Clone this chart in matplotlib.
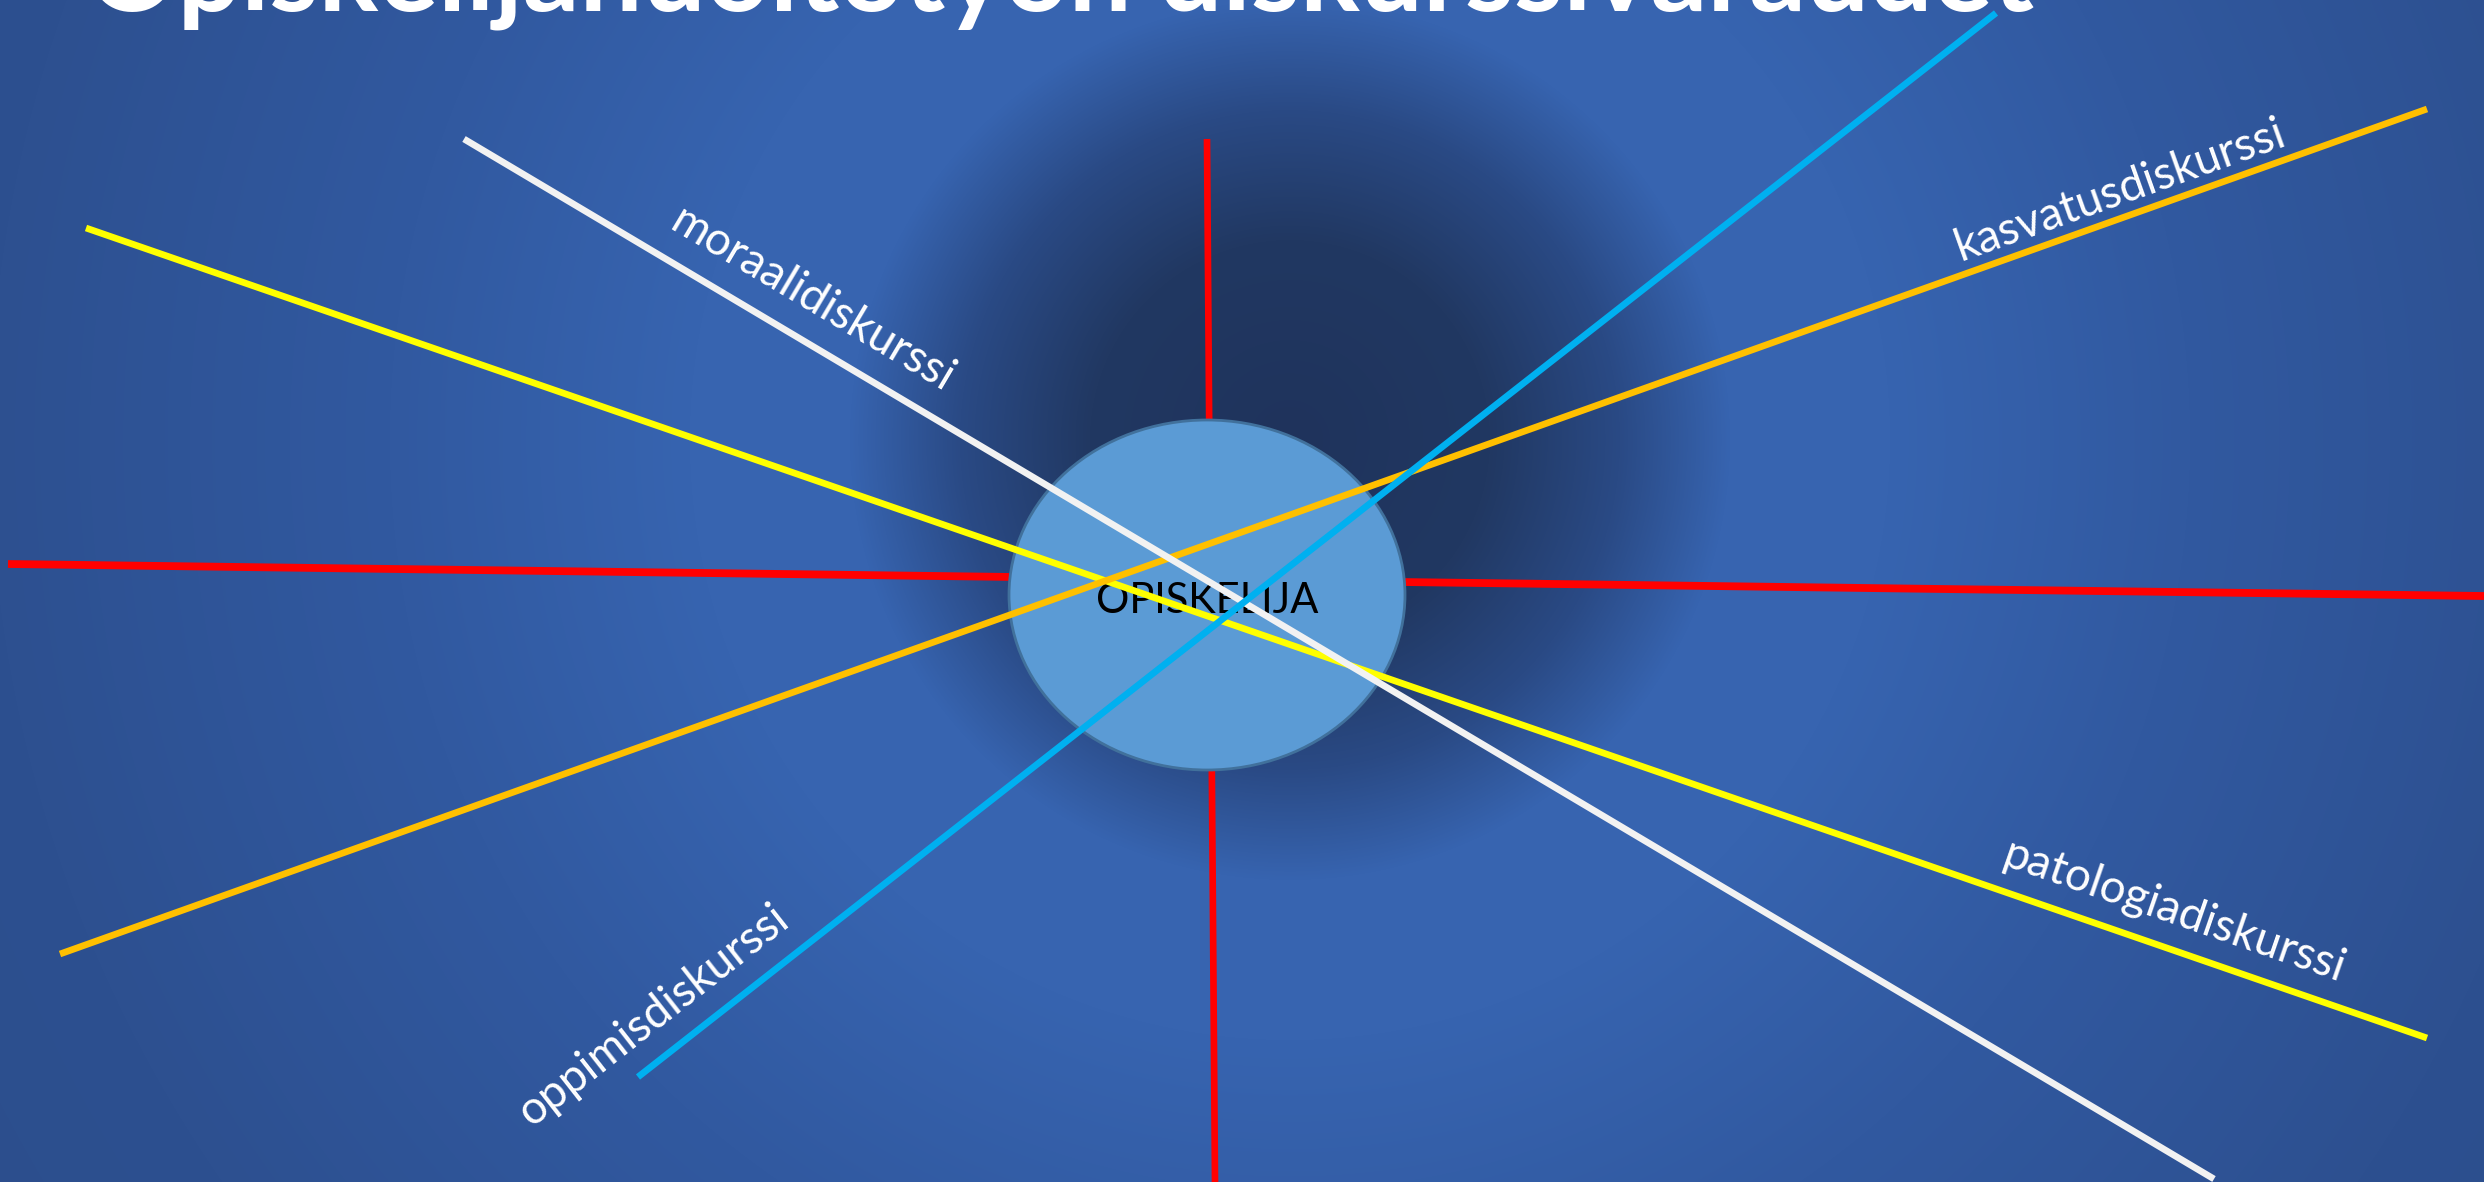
import numpy as np
import matplotlib
matplotlib.use("Agg")
import matplotlib.pyplot as plt
from matplotlib.patches import Ellipse
from matplotlib.colors import to_rgb

W, H = 2484, 1182

# ---------------- data ----------------
title = "Opiskelijahuoltotyön diskurssivaraudet"
center_label = "OPISKELIJA"

red_v_x = [1207, 1215]
red_v_y = [139, 1182]
red_h_x = [8, 2484]
red_h_y = [564, 596]
yellow_x = [86, 2427]
yellow_y = [228, 1038]
orange_x = [60, 2427]
orange_y = [954, 109]
white_x = [464, 2214]
white_y = [139, 1179]
cyan_x = [638, 1996]
cyan_y = [1077, 13]

labels = ["moraalidiskurssi", "kasvatusdiskurssi", "patologiadiskurssi", "oppimisdiskurssi"]
label_x = [813, 2120, 2174, 653]
label_y = [300, 190, 912, 1016]
label_line = ["white", "orange", "yellow", "cyan"]

# background gradient stops (distance from dark centre, colour)
bg_center = (1290, 440)
bg_stop_d = [0, 200, 330, 440, 600, 900, 1300, 1600]
bg_stop_c = ["#1f335c", "#213862", "#2a4a85", "#3764b0", "#3764b0",
             "#3159a0", "#2d5090", "#2c4e8c"]

# ---------------- figure ----------------
fig = plt.figure(figsize=(W / 100, H / 100), dpi=100)
ax = fig.add_axes([0, 0, 1, 1])
ax.set_xlim(0, W)
ax.set_ylim(H, 0)
ax.axis("off")

yy, xx = np.mgrid[0:H, 0:W] + 0.5
d = np.hypot(xx - bg_center[0], yy - bg_center[1])
cols = np.array([to_rgb(c) for c in bg_stop_c])
img = np.dstack([np.interp(d, bg_stop_d, cols[:, k]) for k in range(3)])
ax.imshow(img, extent=(0, W, H, 0), aspect="auto", interpolation="bilinear", zorder=0)

# red axes (beneath the circle)
ax.plot(red_v_x, red_v_y, color="#FF0000", lw=4.8, solid_capstyle="butt", zorder=1)
ax.plot(red_h_x, red_h_y, color="#FF0000", lw=5.6, solid_capstyle="butt", zorder=1)

ax.add_patch(Ellipse((1207, 595), width=396, height=350, facecolor="#5B9BD5",
                     edgecolor="#41719C", lw=2.0, zorder=2))
ax.text(1207, 613, center_label, ha="center", va="baseline", fontsize=30,
        family="Lato", color="black", zorder=3)

line_data = {
    "yellow": (yellow_x, yellow_y, "#FFFF00"),
    "orange": (orange_x, orange_y, "#FFC000"),
    "white": (white_x, white_y, "#F2F2F2"),
    "cyan": (cyan_x, cyan_y, "#00B0F0"),
}
for z, key in enumerate(["yellow", "orange", "white", "cyan"]):
    lx, ly, c = line_data[key]
    ax.plot(lx, ly, color=c, lw=4.8, solid_capstyle="butt", zorder=4 + z * 0.1)

for name, x, y, key in zip(labels, label_x, label_y, label_line):
    lx, ly, _ = line_data[key]
    ang = -np.degrees(np.arctan2(ly[1] - ly[0], lx[1] - lx[0]))
    if ang > 90:
        ang -= 180
    elif ang < -90:
        ang += 180
    ax.text(x, y, name, rotation=ang, rotation_mode="anchor", ha="center",
            va="center", fontsize=33, family="Lato", color="white", zorder=6)

# title, fitted to its width in the reference
t = ax.text(87, 10, title, ha="left", va="baseline", fontsize=70,
            family="Lato", weight="bold", color="white", zorder=7)
fig.canvas.draw()
bb = t.get_window_extent(renderer=fig.canvas.get_renderer())
t.set_fontsize(70 * 1948 / bb.width)

fig.savefig("out.png", dpi=100)
